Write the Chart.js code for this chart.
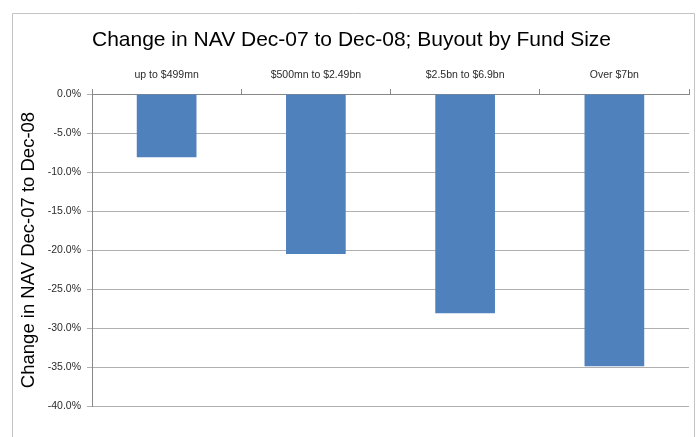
<!DOCTYPE html>
<html lang="en">
    <head>
        <meta charset="UTF-8">
        <title>Change in NAV by Fund Size</title>
        <script src="https://cdn.jsdelivr.net/npm/chart.js"></script>
        <style>
            html, body {
                margin: 0;
                padding: 0;
                background: #ffffff;
            }

            .chart-container {
                width: 700px;
                height: 437px;
            }
        </style>
    </head>
    <body>
        <div class="chart-container">
            <canvas id="chart" width="700" height="437"></canvas>
        </div>

        <script>
            const categories = ['up to $499mn', '$500mn to $2.49bn', '$2.5bn to $6.9bn', 'Over $7bn'];
            const navChange = [-8.1, -20.5, -28.1, -34.9];   // percent
            const yMin = -40;
            const yMax = 0;
            const yStep = 5;

            const textColor = '#2b2b2b';

            // grey frame round the whole chart
            const frame = {
                id: 'frame',
                beforeDraw(chart) {
                    const ctx = chart.ctx;
                    ctx.save();
                    ctx.fillStyle = '#ffffff';
                    ctx.fillRect(0, 0, chart.width, chart.height);
                    ctx.strokeStyle = '#c4c4c4';
                    ctx.lineWidth = 1;
                    ctx.beginPath();
                    ctx.moveTo(12.5, chart.height + 2);
                    ctx.lineTo(12.5, 13.5);
                    ctx.lineTo(694.5, 13.5);
                    ctx.lineTo(694.5, chart.height + 2);
                    ctx.stroke();
                    ctx.restore();
                }
            };

            new Chart(document.getElementById('chart'), {
                type: 'bar',
                data: {
                    labels: categories,
                    datasets: [{
                        data: navChange,
                        backgroundColor: '#4f81bd',
                        borderWidth: 0,
                        barPercentage: 0.4,
                        categoryPercentage: 1
                    }]
                },
                options: {
                    responsive: false,
                    animation: false,
                    layout: {
                        padding: { top: 0, left: 14, right: 11, bottom: 31 }
                    },
                    plugins: {
                        legend: { display: false },
                        tooltip: { enabled: false },
                        title: {
                            display: true,
                            text: 'Change in NAV Dec-07 to Dec-08; Buyout by Fund Size',
                            color: '#000000',
                            font: { family: "'Liberation Sans', Arial, sans-serif", size: 21, weight: 'normal', lineHeight: 1.2 },
                            padding: { top: 28, bottom: 0 }
                        }
                    },
                    scales: {
                        x: {
                            position: 'top',
                            afterFit: (scale) => { scale.height = 40.8; },
                            grid: {
                                drawOnChartArea: false,
                                drawTicks: true,
                                tickLength: 5,
                                color: '#888888'
                            },
                            border: { display: true, color: '#888888' },
                            ticks: {
                                color: textColor,
                                padding: 8,
                                maxRotation: 0,
                                font: { family: "'Liberation Sans', Arial, sans-serif", size: 10.5 }
                            }
                        },
                        y: {
                            min: yMin,
                            max: yMax,
                            afterFit: (scale) => { scale.width = 78; },
                            grid: {
                                color: '#b0b0b0',
                                drawTicks: true,
                                tickLength: 5
                            },
                            border: { display: true, color: '#888888' },
                            ticks: {
                                stepSize: yStep,
                                color: textColor,
                                padding: 6,
                                font: { family: "'Liberation Sans', Arial, sans-serif", size: 10.5 },
                                callback: (v) => v.toFixed(1) + '%'
                            },
                            title: {
                                display: true,
                                text: 'Change in NAV Dec-07 to Dec-08',
                                color: '#000000',
                                padding: { top: 4, bottom: 0 },
                                font: { family: "'Liberation Sans', Arial, sans-serif", size: 18.5, lineHeight: 1.2 }
                            }
                        }
                    }
                },
                plugins: [frame]
            });
        </script>
    </body>
</html>
